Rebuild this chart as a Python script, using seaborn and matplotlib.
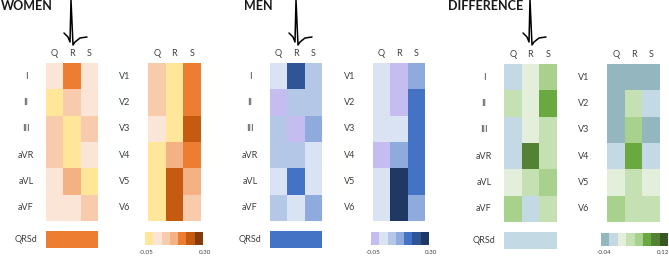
import numpy as np
import pandas as pd
import matplotlib
matplotlib.use("Agg")
import matplotlib.pyplot as plt
from matplotlib.colors import ListedColormap, BoundaryNorm
import seaborn as sns

sns.set_theme(style="white")
plt.rcParams['font.family'] = ['Lato', 'DejaVu Sans']

W, H = 669, 256

waves = ['Q', 'R', 'S']
limb_leads = ['I', 'II', 'III', 'aVR', 'aVL', 'aVF']
chest_leads = ['V1', 'V2', 'V3', 'V4', 'V5', 'V6']

women_limb = [[0.025, 0.175, 0.025],
              [-0.025, 0.075, 0.025],
              [0.075, -0.025, 0.075],
              [0.075, -0.025, 0.025],
              [0.025, 0.125, -0.025],
              [0.025, 0.025, 0.075]]
women_chest = [[0.075, -0.025, 0.175],
               [0.075, -0.025, 0.175],
               [0.025, -0.025, 0.225],
               [-0.025, 0.125, 0.175],
               [-0.025, 0.225, 0.125],
               [-0.025, 0.225, 0.075]]
women_qrsd = [0.175]

men_limb = [[0.025, 0.225, 0.075],
            [-0.025, 0.075, 0.075],
            [0.075, -0.025, 0.125],
            [0.075, 0.075, 0.025],
            [0.025, 0.175, 0.025],
            [0.075, 0.025, 0.125]]
men_chest = [[0.025, -0.025, 0.125],
             [0.025, -0.025, 0.175],
             [0.025, 0.025, 0.175],
             [-0.025, 0.125, 0.175],
             [0.025, 0.275, 0.175],
             [0.025, 0.275, 0.125]]
men_qrsd = [0.175]

diff_limb = [[-0.01, 0.01, 0.05],
             [0.03, 0.01, 0.07],
             [-0.01, 0.01, 0.03],
             [-0.01, 0.09, 0.03],
             [0.01, 0.03, 0.05],
             [0.05, -0.01, 0.03]]
diff_chest = [[-0.03, -0.03, -0.03],
              [-0.03, 0.03, -0.01],
              [-0.03, 0.05, -0.03],
              [-0.01, 0.07, -0.01],
              [0.01, 0.03, 0.01],
              [0.05, 0.03, 0.03]]
diff_qrsd = [-0.01]

women_colors = ['#FFE699', '#FBE5D6', '#F8CBAD', '#F4B183', '#ED7D31', '#C55A11', '#843C0C']
men_colors = ['#C5BDF0', '#DAE3F3', '#B4C7E7', '#8FAADC', '#4472C4', '#2F5597', '#1F3864']
diff_colors = ['#94B6BE', '#C3D9E3', '#E4EFDB', '#C5E0B3', '#A9D18E', '#6AA93F', '#548235', '#385723']

sex_bounds = np.arange(-0.05, 0.31, 0.05)
diff_bounds = np.arange(-0.04, 0.121, 0.02)


def px_axes(fig, x0, y0, x1, y1):
    return fig.add_axes([x0 / W, 1 - y1 / H, (x1 - x0) / W, (y1 - y0) / H])


def draw_heat(ax, values, cmap, norm, xlabels, ylabels, pad):
    df = pd.DataFrame(values, index=ylabels if ylabels else None)
    sns.heatmap(df, ax=ax, cmap=cmap, norm=norm, cbar=False,
                xticklabels=xlabels if xlabels else False,
                yticklabels=ylabels if ylabels else False)
    ax.xaxis.tick_top()
    ax.tick_params(axis='x', length=0, pad=3.5, labelsize=6.5, labelcolor='#404040')
    ax.tick_params(axis='y', length=0, pad=pad * 0.72, labelsize=6.5, labelcolor='#404040')
    ax.set_xlabel('')
    ax.set_ylabel('')
    plt.setp(ax.get_xticklabels(), rotation=0)
    plt.setp(ax.get_yticklabels(), rotation=0, ha='center')


fig = plt.figure(figsize=(W / 100, H / 100), dpi=100, facecolor='white')

panels = [
    dict(title='WOMEN', tx=1, limb=women_limb, chest=women_chest, qrsd=women_qrsd,
         colors=women_colors, bounds=sex_bounds, lo='-0.05', hi='0.30',
         limb_x=(46, 98), chest_x=(148, 201), bar_x=(145, 203), y=(63, 221), lx=(146, 205), dy=0),
    dict(title='MEN', tx=244, limb=men_limb, chest=men_chest, qrsd=men_qrsd,
         colors=men_colors, bounds=sex_bounds, lo='-0.05', hi='0.30',
         limb_x=(270, 322), chest_x=(373, 425), bar_x=(371, 429), y=(63, 221), lx=(373, 431), dy=0),
    dict(title='DIFFERENCE', tx=448, limb=diff_limb, chest=diff_chest, qrsd=diff_qrsd,
         colors=diff_colors, bounds=diff_bounds, lo='-0.04', hi='0.12',
         limb_x=(504, 557), chest_x=(607, 660), bar_x=(601, 668), y=(64, 222), lx=(604, 663), dy=1),
]

for p in panels:
    cmap = ListedColormap(p['colors'])
    norm = BoundaryNorm(p['bounds'], cmap.N)
    y0, y1 = p['y']

    ax = px_axes(fig, p['limb_x'][0], y0, p['limb_x'][1], y1)
    draw_heat(ax, p['limb'], cmap, norm, waves, limb_leads, 20)
    ax = px_axes(fig, p['chest_x'][0], y0, p['chest_x'][1], y1)
    draw_heat(ax, p['chest'], cmap, norm, waves, chest_leads, 23)

    # QRS duration strip
    ax = px_axes(fig, p['limb_x'][0], 231 + p['dy'], p['limb_x'][1], 248 + p['dy'])
    draw_heat(ax, [p['qrsd']], cmap, norm, None, ['QRSd'], 20)

    # colour key
    centers = (p['bounds'][:-1] + p['bounds'][1:]) / 2
    ax = px_axes(fig, p['bar_x'][0], 232 + p['dy'], p['bar_x'][1], 245 + p['dy'])
    draw_heat(ax, [list(centers)], cmap, norm, None, None, 0)

    fig.text(p['lx'][0] / W, 1 - (252 + p['dy']) / H, p['lo'], fontsize=4.5,
             color='#404040', ha='center', va='center')
    fig.text(p['lx'][1] / W, 1 - (252 + p['dy']) / H, p['hi'], fontsize=4.5,
             color='#404040', ha='center', va='center')
    fig.text(p['tx'] / W, 1 - 6 / H, p['title'], fontsize=9, fontweight='bold',
             color='#1a1a1a', ha='left', va='center')

# QRS complex sketch above each group, figure pixels
ecg_x = [64, 68, 70, 71, 73, 75, 80, 87]
ecg_y = [33, 37, 42, 0, 45, 42, 38, 37]
overlay = fig.add_axes([0, 0, 1, 1], facecolor='none')
overlay.set_xlim(0, W)
overlay.set_ylim(H, 0)
overlay.axis('off')
for shift in [0, 225, 459]:
    overlay.plot(np.array(ecg_x) + shift, ecg_y, color='black', lw=1.1)

fig.savefig('out.png', dpi=100, facecolor='white')
